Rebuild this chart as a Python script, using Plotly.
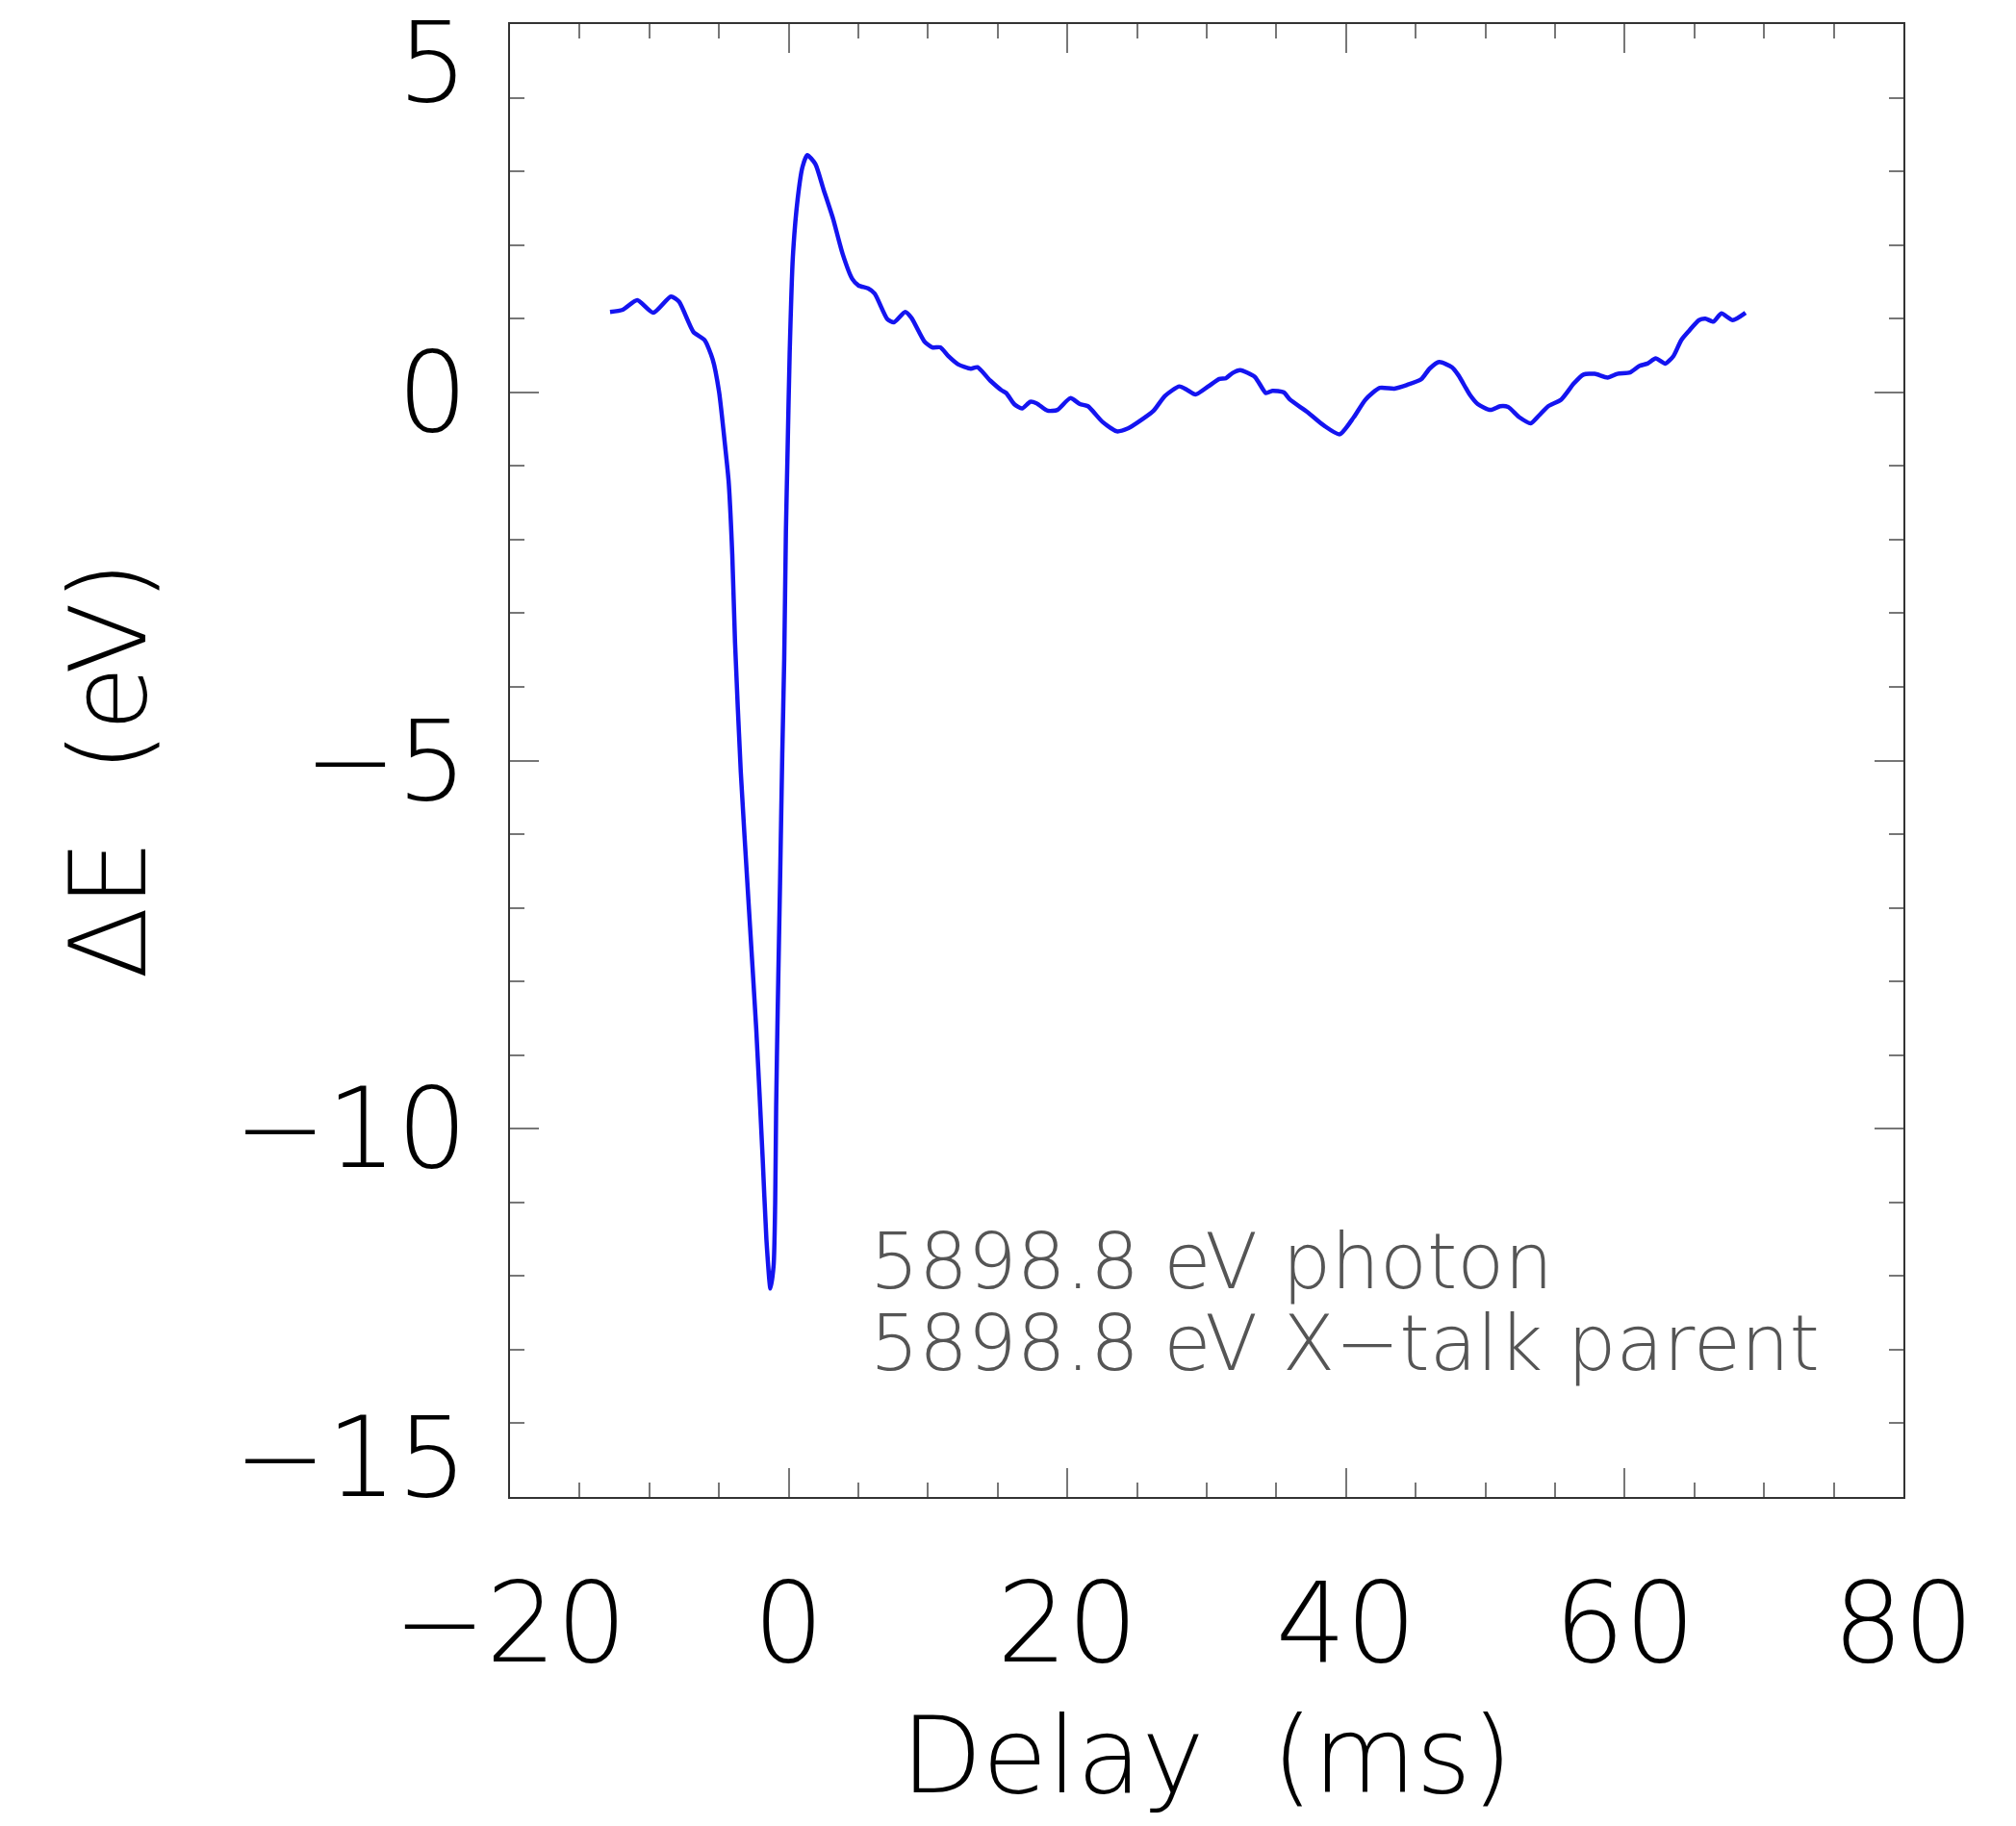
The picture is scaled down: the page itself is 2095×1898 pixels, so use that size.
import plotly.graph_objects as go

# delay (ms) and energy shift (eV)
delay = [-12.82, -11.91, -10.87, -9.72, -8.45, -7.87, -6.84, -6.04, -5.46, -5.00,
         -4.54, -4.31, -4.05, -3.85, -3.44, -2.89, -2.33, -1.87, -1.60,
         -1.31, -1.08, -0.97, -0.90, -0.79, -0.62, -0.46, -0.32,
         -0.20, -0.08, 0.07, 0.30, 0.64, 0.99, 1.33, 1.91, 2.49, 3.18,
         3.87, 4.56, 5.01, 5.70, 6.17, 7.09, 7.55, 8.36, 8.81, 9.74,
         10.31, 10.88, 11.46, 12.15, 13.07, 13.54, 14.46, 15.26, 15.61, 16.18,
         16.75, 17.33, 17.79, 18.59, 19.28, 20.21, 20.90, 21.48, 22.51, 23.55,
         24.35, 25.04, 26.19, 27.00, 28.04, 28.61, 29.19, 30.11, 30.91, 31.37,
         31.84, 32.41, 33.45, 34.25, 34.71, 35.52, 35.98, 37.24, 38.40, 39.54,
         40.55, 41.39, 42.42, 43.46, 44.38, 45.41, 45.99, 46.69, 47.60, 48.07,
         48.87, 49.45, 50.37, 51.06, 51.63, 52.44, 53.25, 53.82, 54.51, 55.43,
         56.35, 57.04, 57.85, 58.77, 59.46, 60.38, 61.07, 61.64, 62.22, 62.91,
         63.49, 64.06, 64.64, 65.33, 65.79, 66.37, 66.94, 67.75, 68.67]
delta_e = [1.09, 1.12, 1.25, 1.08, 1.30, 1.23, 0.82, 0.71, 0.45, 0.01,
           -0.77, -1.21, -2.20, -3.40, -5.15, -6.90, -8.64, -10.39, -11.50,
           -12.17, -11.85, -11.01, -9.71, -8.40, -6.66, -4.91, -3.61,
           -1.90, -0.80, 0.53, 1.84, 2.62, 3.06, 3.22, 3.10, 2.76, 2.36,
           1.88, 1.54, 1.45, 1.41, 1.34, 0.99, 0.95, 1.09, 1.01, 0.69,
           0.61, 0.61, 0.49, 0.38, 0.32, 0.34, 0.16, 0.03, -0.01, -0.16,
           -0.22, -0.13, -0.15, -0.25, -0.24, -0.08, -0.16, -0.19, -0.40, -0.53,
           -0.49, -0.41, -0.25, -0.05, 0.08, 0.03, -0.03, 0.08, 0.18, 0.19,
           0.26, 0.30, 0.21, -0.01, 0.02, 0.00, -0.10, -0.27, -0.45, -0.57,
           -0.34, -0.10, 0.06, 0.05, 0.10, 0.18, 0.32, 0.41, 0.34, 0.23,
           -0.03, -0.16, -0.24, -0.19, -0.20, -0.34, -0.42, -0.32, -0.19, -0.10,
           0.12, 0.24, 0.25, 0.20, 0.25, 0.27, 0.36, 0.39, 0.46, 0.39,
           0.49, 0.71, 0.84, 0.98, 1.00, 0.96, 1.07, 0.98, 1.08]

ytick_vals = [5, 0, -5, -10, -15]
ytick_text = ["5", "0", "\u22125", "\u221210", "\u221215"]
legend_lines = ["5898.8 eV photon", "5898.8 eV X\u2212talk parent"]

font = "DejaVu Sans"
axcol = "#333333"
tickcol = "#777777"

fig = go.Figure()
fig.add_trace(go.Scatter(x=delay, y=delta_e, mode="lines",
                         line=dict(color="#1414f0", width=4.5, shape="spline", smoothing=0.6),
                         showlegend=False))

# the page body adds 8px, so the margins are cut by that much
fig.update_layout(width=2095, height=1898,
                  margin=dict(l=522, r=125, t=17, b=350),
                  paper_bgcolor="white", plot_bgcolor="white",
                  font=dict(family=font, color="black"))

fig.update_xaxes(range=[-20, 80], tick0=-20, dtick=20,
                 showline=True, linecolor=axcol, linewidth=2, mirror="ticks",
                 ticks="inside", ticklen=30, tickwidth=2, tickcolor=tickcol,
                 minor=dict(dtick=5, ticks="inside", ticklen=15, tickwidth=2, tickcolor=tickcol),
                 showgrid=False, zeroline=False,
                 tickfont=dict(size=115, family=font, weight=200), ticklabelstandoff=31,
                 title=dict(text="Delay  (ms)", font=dict(size=110, family=font, weight=200), standoff=33))

fig.update_yaxes(range=[-15, 5], tick0=-15, dtick=5,
                 showline=True, linecolor=axcol, linewidth=2, mirror="ticks",
                 ticks="inside", ticklen=30, tickwidth=2, tickcolor=tickcol,
                 minor=dict(dtick=1, ticks="inside", ticklen=15, tickwidth=2, tickcolor=tickcol),
                 showgrid=False, zeroline=False, showticklabels=False)

# y tick labels: end labels are kept inside the frame, as in the original
for v, t in zip(ytick_vals, ytick_text):
    if v == max(ytick_vals):
        anchor, shift = "top", 29
    elif v == min(ytick_vals):
        anchor, shift = "bottom", -28
    else:
        anchor, shift = "middle", 0
    fig.add_annotation(text=t, xref="paper", x=0, yref="y", y=v,
                       xanchor="right", yanchor=anchor, xshift=-42, yshift=shift,
                       showarrow=False, font=dict(size=115, family=font, color="black", weight=200))

# y axis title
fig.add_annotation(text="\u0394E  (eV)", xref="paper", x=-0.288, yref="paper", y=0.494,
                   textangle=-90, showarrow=False, xanchor="center", yanchor="middle",
                   font=dict(size=110, family=font, color="black", weight=200))

for i, line in enumerate(legend_lines):
    fig.add_annotation(text=line, xref="paper", x=0.257, yref="paper", y=0.1594 - 0.0549 * i,
                       xanchor="left", yanchor="middle", showarrow=False,
                       font=dict(size=80, family=font, color="#555555", weight=200))

fig.write_html("out.html")
